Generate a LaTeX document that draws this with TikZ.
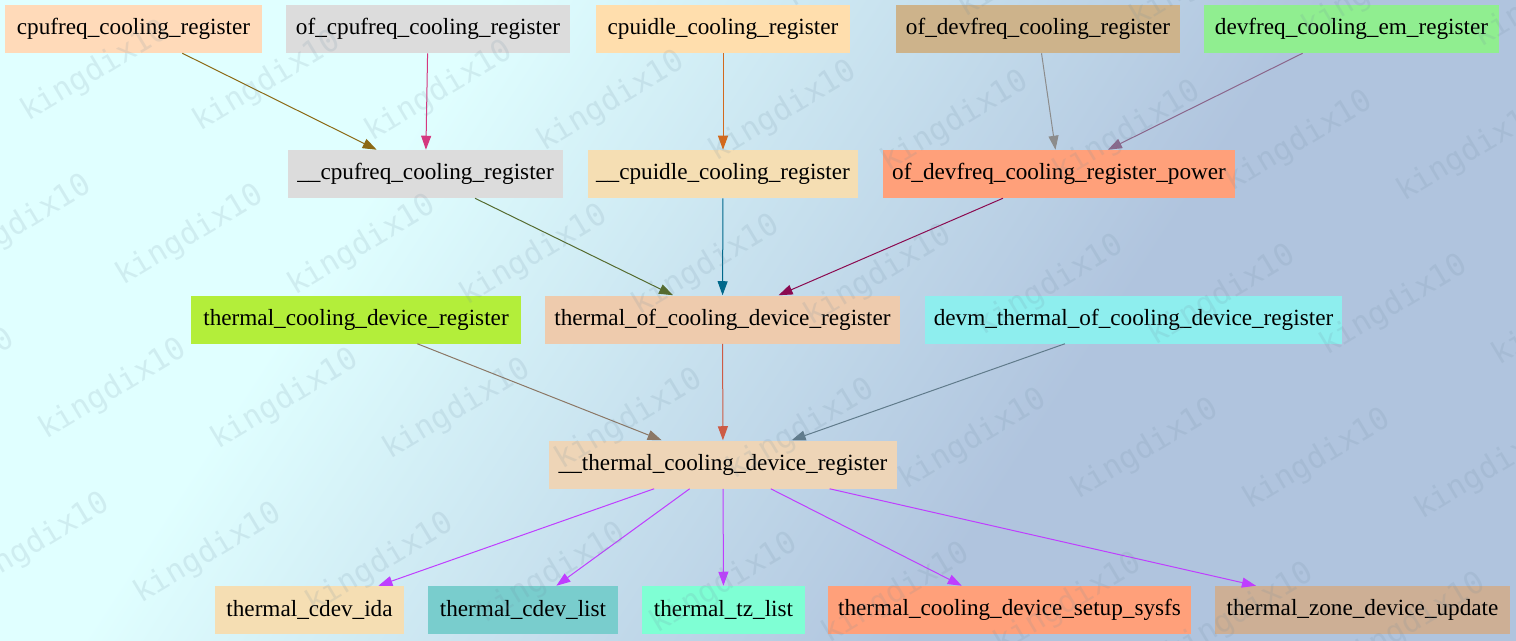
\documentclass[tikz,border=0pt]{standalone}
\usepackage{fontspec}
\setmainfont{Liberation Serif}
\newfontfamily\markfont{DejaVu Sans Mono}
\usetikzlibrary{arrows.meta}

\newlength{\upx}
\setlength{\upx}{0.75pt}

% node fills
\definecolor{cPeach}{HTML}{FFDAB9}
\definecolor{cGrey}{HTML}{DCDCDC}
\definecolor{cNavajo}{HTML}{FFDEAD}
\definecolor{cNavajoD}{HTML}{CDB38B}
\definecolor{cGreen}{HTML}{90EE90}
\definecolor{cWheat}{HTML}{F5DEB3}
\definecolor{cSalmon}{HTML}{FFA07A}
\definecolor{cOlive}{HTML}{B3EE3A}
\definecolor{cPeachD}{HTML}{EECBAD}
\definecolor{cCyan}{HTML}{8EEEEE}
\definecolor{cBisque}{HTML}{EED5B7}
\definecolor{cCadet}{HTML}{79CDCD}
\definecolor{cAqua}{HTML}{7FFFD4}
\definecolor{cPeachE}{HTML}{CDAF95}
% edge colours
\definecolor{eGold}{HTML}{8B6914}
\definecolor{eRose}{HTML}{D4387F}
\definecolor{eChoc}{HTML}{D2691E}
\definecolor{eGrey}{HTML}{8C8C8C}
\definecolor{ePlum}{HTML}{8B668B}
\definecolor{eOlive}{HTML}{556B2F}
\definecolor{eSky}{HTML}{00688B}
\definecolor{ePink}{HTML}{8B0A50}
\definecolor{eBrown}{HTML}{8B7765}
\definecolor{eCoral}{HTML}{CD5B45}
\definecolor{eSteel}{HTML}{607B8B}
\definecolor{eOrchid}{HTML}{BF3EFF}
% background
\definecolor{bgleft}{HTML}{E0FFFF}
\definecolor{bgright}{HTML}{B0C4DE}
\definecolor{wmcol}{HTML}{6E8CA0}

\pgfdeclarehorizontalshading{bgshade}{100bp}{color(0bp)=(bgleft); color(40bp)=(bgleft); color(60bp)=(bgright); color(100bp)=(bgright)}

\begin{document}
\begin{tikzpicture}[
    x=0.75pt, y=-0.75pt,
    % Styles
    fn/.style={rectangle, inner sep=0pt, minimum height=48\upx, text=black, font=\fontsize{17.4}{20}\selectfont},
    call/.style={-{Triangle[length=10.5pt, width=7.5pt]}, line width=0.75pt},
    wmark/.style={font=\markfont\fontsize{23}{26}\selectfont, text=wmcol, text opacity=0.15, rotate=31, inner sep=0pt},
]

% === BACKGROUND ===
\useasboundingbox (0,0) rectangle (1516,640);
\begin{scope}
\clip (0,0) rectangle (1516,640);
\begin{scope}[transform canvas={rotate around={-33:(700,320)}}]
\shade[shading=bgshade] (-164,-680) rectangle (1564,1320);
\end{scope}
\end{scope}

% === ROW 1: entry points ===
\node[fn, fill=cPeach, minimum width=257\upx] (cpufreq) at (133.5,29) {cpufreq\_cooling\_register};
\node[fn, fill=cGrey, minimum width=284\upx] (ofcpufreq) at (428,29) {of\_cpufreq\_cooling\_register};
\node[fn, fill=cNavajo, minimum width=254\upx] (cpuidle) at (723,29) {cpuidle\_cooling\_register};
\node[fn, fill=cNavajoD, minimum width=284\upx] (ofdevfreq) at (1038,29) {of\_devfreq\_cooling\_register};
\node[fn, fill=cGreen, minimum width=295\upx] (devfreqem) at (1351.5,29) {devfreq\_cooling\_em\_register};

% === ROW 2 ===
\node[fn, fill=cGrey, minimum width=275\upx] (cpufreqint) at (425.5,174) {\_\_cpufreq\_cooling\_register};
\node[fn, fill=cWheat, minimum width=270\upx] (cpuidleint) at (723,174) {\_\_cpuidle\_cooling\_register};
\node[fn, fill=cSalmon, minimum width=352\upx] (devfreqpow) at (1059,174) {of\_devfreq\_cooling\_register\_power};

% === ROW 3 ===
\node[fn, fill=cOlive, minimum width=330\upx] (tcdreg) at (356,319.5) {thermal\_cooling\_device\_register};
\node[fn, fill=cPeachD, minimum width=355\upx] (tofreg) at (722.5,319.5) {thermal\_of\_cooling\_device\_register};
\node[fn, fill=cCyan, minimum width=417\upx] (devmreg) at (1133.5,319.5) {devm\_thermal\_of\_cooling\_device\_register};

% === ROW 4 ===
\node[fn, fill=cBisque, minimum width=348\upx] (tcdint) at (723,464.5) {\_\_thermal\_cooling\_device\_register};

% === ROW 5: callees ===
\node[fn, fill=cWheat, minimum width=189\upx] (cdevida) at (309.5,610) {thermal\_cdev\_ida};
\node[fn, fill=cCadet, minimum width=190\upx] (cdevlist) at (523,610) {thermal\_cdev\_list};
\node[fn, fill=cAqua, minimum width=163\upx] (tzlist) at (723.5,610) {thermal\_tz\_list};
\node[fn, fill=cSalmon, minimum width=363\upx] (setupsysfs) at (1009.5,610) {thermal\_cooling\_device\_setup\_sysfs};
\node[fn, fill=cPeachE, minimum width=295\upx] (zoneupdate) at (1362.5,610) {thermal\_zone\_device\_update};

% Calls
\draw[call, eGold] (cpufreq) -- (cpufreqint);
\draw[call, eRose] (ofcpufreq) -- (cpufreqint);
\draw[call, eChoc] (cpuidle) -- (cpuidleint);
\draw[call, eGrey] (ofdevfreq) -- (devfreqpow);
\draw[call, ePlum] (devfreqem) -- (devfreqpow);
\draw[call, eOlive] (cpufreqint) -- (tofreg);
\draw[call, eSky] (cpuidleint) -- (tofreg);
\draw[call, ePink] (devfreqpow) -- (tofreg);
\draw[call, eBrown] (tcdreg) -- (tcdint);
\draw[call, eCoral] (tofreg) -- (tcdint);
\draw[call, eSteel] (devmreg) -- (tcdint);
\foreach \dst in {cdevida, cdevlist, tzlist, setupsysfs, zoneupdate}
  \draw[call, eOrchid] (tcdint) -- (\dst);

% === WATERMARK ===
\begin{scope}
\clip (0,0) rectangle (1516,640);
\foreach \i in {-1,...,10}
  \foreach \j in {-1,...,4}
    \node[wmark] (wm-\i-\j) at ({95+172*\i-77*\j},{72+10*\i+154*\j}) {kingdix10};
\end{scope}

\end{tikzpicture}
\end{document}
